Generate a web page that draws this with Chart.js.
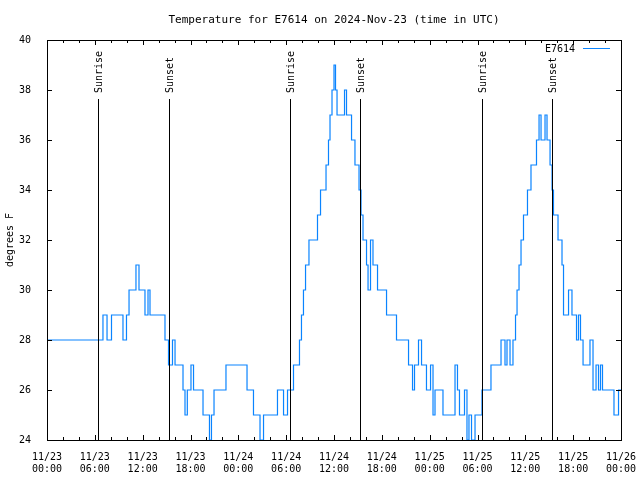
<!DOCTYPE html>
<html>
<head>
<meta charset="utf-8">
<script src="https://cdn.jsdelivr.net/npm/chart.js@4"></script>
<style>
html,body{margin:0;padding:0;background:#fff;}
canvas{display:block;}
</style>
</head>
<body>
<canvas id="c" width="640" height="480"></canvas>
<script>
// Hours since 2024-11-23 00:00 UTC at which the reading changes
const times = [0,7.02,7.53,8.09,9.53,9.97,10.29,11.16,11.54,12.29,
  12.67,12.92,14.80,15.24,15.74,16.06,17.06,17.31,17.60,18.06,
  18.38,19.57,20.38,20.63,20.95,22.45,25.09,25.90,26.72,27.16,
  28.91,29.67,30.17,30.92,31.67,31.92,32.17,32.43,32.86,33.93,
  34.31,35.00,35.31,35.50,35.75,36.00,36.19,36.38,37.32,37.57,
  38.20,38.63,39.14,39.39,39.64,40.08,40.27,40.58,40.89,41.46,
  42.59,43.84,45.35,45.85,46.10,46.60,46.98,47.60,48.11,48.42,
  48.67,49.67,51.18,51.49,51.74,52.37,52.68,52.93,53.25,53.69,
  54.56,55.69,56.95,57.45,57.70,58.08,58.45,58.77,58.96,59.21,
  59.46,59.77,60.27,60.71,61.40,61.72,61.97,62.47,62.72,63.10,
  63.35,63.53,64.10,64.60,64.79,65.42,65.85,66.42,66.67,66.92,
  67.24,68.11,68.49,68.87,69.18,69.43,69.68,71.12,71.69,72];
// Temperature (degrees F)
const temps = [28,29,28,29,28,29,30,31,30,29,
  30,29,28,27,28,27,26,25,26,27,
  26,25,24,25,26,27,26,25,24,25,
  26,25,26,27,28,29,30,31,32,33,
  34,35,36,37,38,39,38,37,38,37,
  36,35,34,33,32,31,30,32,31,30,
  29,28,27,26,27,28,27,26,27,25,
  26,25,27,26,25,26,24,25,24,25,
  26,27,28,27,28,27,28,29,30,31,
  32,33,34,35,36,37,36,37,36,35,
  34,33,32,31,29,30,29,28,29,28,
  27,28,26,27,26,27,26,25,26,26];
const seriesName = 'E7614';
const sunTimes = [6.40, 15.30, 30.48, 39.26, 54.56, 63.35];
const sunLabels = ['Sunrise','Sunset','Sunrise','Sunset','Sunrise','Sunset'];
const tickDates = ['11/23','11/23','11/23','11/23','11/24','11/24','11/24','11/24','11/25','11/25','11/25','11/25','11/26'];
const tickTimes = ['00:00','06:00','12:00','18:00','00:00','06:00','12:00','18:00','00:00','06:00','12:00','18:00','00:00'];
const titleText = 'Temperature for E7614 on 2024-Nov-23 (time in UTC)';
const yTitle = 'degrees F';

const LINE_COLOR = '#0a84ff';
const MONO = '"DejaVu Sans Mono", "Liberation Mono", monospace';

const points = times.map((t, i) => ({x: t, y: temps[i]}));

const decor = {
  id: 'decor',
  afterDatasetsDraw(chart) {
    const ctx = chart.ctx;
    const a = chart.chartArea;
    const xs = chart.scales.x, ys = chart.scales.y;
    ctx.save();
    ctx.strokeStyle = '#000';
    ctx.lineWidth = 1;
    // sunrise / sunset lines
    ctx.font = '10px ' + MONO;
    ctx.fillStyle = '#000';
    sunTimes.forEach((t, i) => {
      const px = Math.round(xs.getPixelForValue(t)) + 0.5;
      ctx.beginPath();
      ctx.moveTo(px, a.bottom);
      ctx.lineTo(px, a.top + 59);
      ctx.stroke();
      ctx.save();
      ctx.translate(px + 0.5, a.top + 53);
      ctx.rotate(-Math.PI / 2);
      ctx.textAlign = 'left';
      ctx.textBaseline = 'middle';
      ctx.fillText(sunLabels[i], 0, 0);
      ctx.restore();
    });
    // border
    ctx.strokeRect(Math.round(a.left) + 0.5, Math.round(a.top) + 0.5,
                   Math.round(a.right - a.left), Math.round(a.bottom - a.top));
    // x ticks (inward, top and bottom)
    ctx.beginPath();
    for (let h = xs.min; h <= xs.max; h += 2) {
      const px = Math.round(xs.getPixelForValue(h)) + 0.5;
      const len = (h % 6 === 0) ? 5 : 3;
      ctx.moveTo(px, a.bottom); ctx.lineTo(px, a.bottom - len);
      ctx.moveTo(px, a.top); ctx.lineTo(px, a.top + len);
    }
    // y ticks (inward, left and right)
    ys.ticks.forEach(tk => {
      const py = Math.round(ys.getPixelForValue(tk.value)) + 0.5;
      ctx.moveTo(a.left, py); ctx.lineTo(a.left + 5, py);
      ctx.moveTo(a.right, py); ctx.lineTo(a.right - 5, py);
    });
    ctx.stroke();
    // title
    ctx.font = '11px ' + MONO;
    ctx.textAlign = 'center';
    ctx.textBaseline = 'middle';
    ctx.fillText(titleText, (a.left + a.right) / 2, 20);
    // y title
    ctx.font = '10px ' + MONO;
    ctx.save();
    ctx.translate(10, (a.top + a.bottom) / 2);
    ctx.rotate(-Math.PI / 2);
    ctx.fillText(yTitle, 0, 0);
    ctx.restore();
    // legend
    ctx.textAlign = 'right';
    ctx.fillText(seriesName, a.right - 46, a.top + 9);
    ctx.strokeStyle = LINE_COLOR;
    ctx.beginPath();
    ctx.moveTo(a.right - 38, a.top + 8.5);
    ctx.lineTo(a.right - 11, a.top + 8.5);
    ctx.stroke();
    ctx.restore();
  }
};

new Chart(document.getElementById('c'), {
  type: 'line',
  data: {
    datasets: [{
      label: seriesName,
      data: points,
      borderColor: LINE_COLOR,
      borderWidth: 1.2,
      pointRadius: 0,
      stepped: true,
      fill: false,
      tension: 0
    }]
  },
  options: {
    responsive: false,
    animation: false,
    devicePixelRatio: 1,
    layout: { padding: { left: 0, right: 19, top: 40, bottom: 0 } },
    plugins: { legend: { display: false }, title: { display: false }, tooltip: { enabled: false } },
    scales: {
      x: {
        type: 'linear', min: 0, max: 72,
        afterFit: s => { s.height = 40; s.paddingLeft = 0; s.paddingRight = 0; },
        grid: { display: false }, border: { display: false },
        ticks: {
          stepSize: 6, autoSkip: false, maxRotation: 0, minRotation: 0,
          color: '#000', padding: 3, font: { family: MONO, size: 10 },
          callback: v => { const i = Math.round(v / 6); return [tickDates[i], tickTimes[i]]; }
        }
      },
      y: {
        min: 24, max: 40,
        afterFit: s => { s.width = 47; },
        grid: { display: false }, border: { display: false },
        ticks: { stepSize: 2, color: '#000', padding: 8, font: { family: MONO, size: 10 } }
      }
    }
  },
  plugins: [decor]
});
</script>
</body>
</html>
